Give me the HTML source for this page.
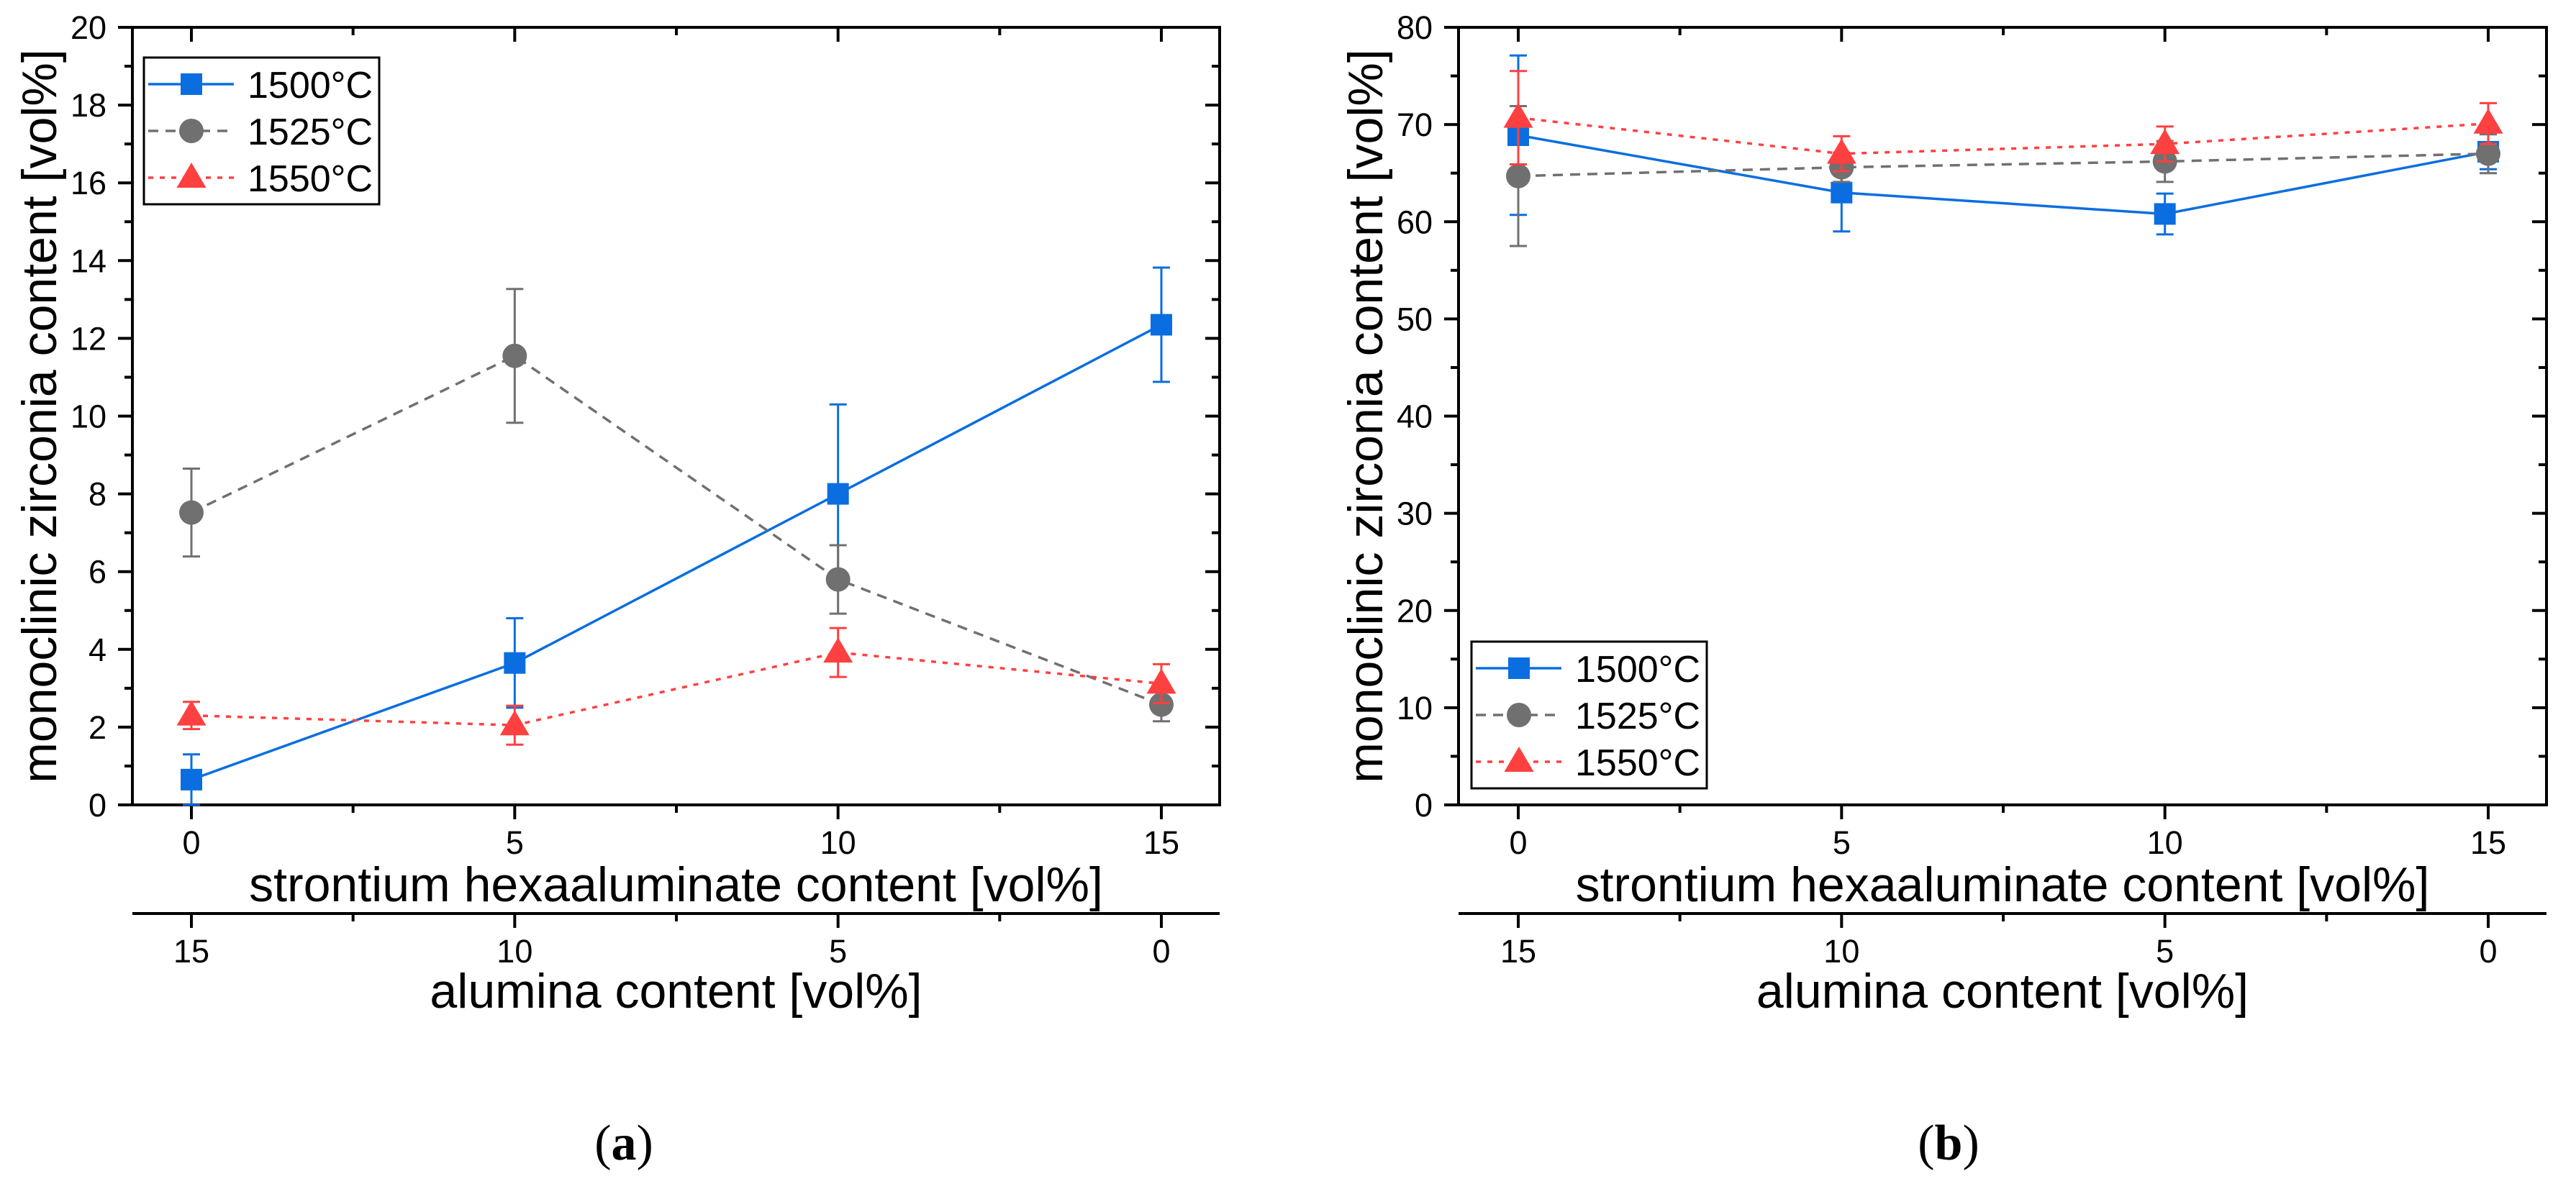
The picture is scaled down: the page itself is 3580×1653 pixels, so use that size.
<!DOCTYPE html>
<html><head><meta charset="utf-8"><style>
body{margin:0;background:#fff}
svg{display:block}
text{font-family:"Liberation Sans",Arial,sans-serif;fill:#000}
</style></head><body>
<svg id="fig" width="3580" height="1653" viewBox="0 0 3580 1653" xmlns="http://www.w3.org/2000/svg"></svg>
<script>
const categories=[0,5,10,15];
const aluminaTicks=[15,10,5,0];
const seriesNames=['1500°C','1525°C','1550°C'];
const a1500=[0.65,3.65,8.0,12.35];
const a1500err=[0.65,1.15,2.3,1.47];
const a1525=[7.52,11.55,5.8,2.58];
const a1525err=[1.13,1.72,0.88,0.43];
const a1550=[2.3,2.05,3.92,3.12];
const a1550err=[0.35,0.5,0.63,0.5];
const b1500=[68.9,63.0,60.8,67.2];
const b1500err=[8.2,4.0,2.1,1.8];
const b1525=[64.7,65.6,66.2,67.0];
const b1525err=[7.2,1.5,2.1,2.0];
const b1550=[70.7,67.0,68.0,70.1];
const b1550err=[4.8,1.8,1.8,2.1];
const aYTicks=[0,2,4,6,8,10,12,14,16,18,20];
const bYTicks=[0,10,20,30,40,50,60,70,80];

const NS='http://www.w3.org/2000/svg';
const svg=document.getElementById('fig');
function el(tag,attrs,parent,txt){const e=document.createElementNS(NS,tag);for(const k in attrs)e.setAttribute(k,attrs[k]);if(txt!==undefined)e.textContent=txt;(parent||svg).appendChild(e);return e;}
const colors=['#0a6ee0','#707070','#ff4040'];
const dashes=['none','14 10','7 9'];

function panel(o){
  const g=el('g',{});
  
  
  const L=o.left,R=o.right,T=38,B=1119;
  const X=v=>o.x0+(v-0)*(o.x15-o.x0)/15;
  const Y=v=>B-(v-0)*(B-T)/o.ymax;
  const fr=el('rect',{x:L,y:T,width:R-L,height:B-T,fill:'none',stroke:'#000','stroke-width':4},g);
  
  
  for(let v=0;v<=15;v+=2.5){
    const major=v%5===0, len=major?20:11;
    el('line',{x1:X(v),x2:X(v),y1:B,y2:B+len,stroke:'#000','stroke-width':4},g);
    el('line',{x1:X(v),x2:X(v),y1:T,y2:T+len,stroke:'#000','stroke-width':4},g);
    el('line',{x1:X(v),x2:X(v),y1:1270,y2:1270+len,stroke:'#000','stroke-width':4},g);
  }
  categories.forEach(c=>{
    const t=el('text',{x:X(c),y:1187,'font-size':45,'text-anchor':'middle'},g,String(c));
    
    
  });
  aluminaTicks.forEach((c,i)=>{
    const t=el('text',{x:X(categories[i]),y:1338,'font-size':45,'text-anchor':'middle'},g,String(c));
    
    
  });
  el('line',{x1:L,x2:R,y1:1270,y2:1270,stroke:'#000','stroke-width':4},g);
  const step=o.ticks[1]-o.ticks[0];
  for(let v=0;v<=o.ymax+1e-9;v+=step/2){
    const major=Math.abs(v/step-Math.round(v/step))<1e-6, len=major?20:11;
    el('line',{x1:L-len,x2:L,y1:Y(v),y2:Y(v),stroke:'#000','stroke-width':4},g);
    el('line',{x1:R-len,x2:R,y1:Y(v),y2:Y(v),stroke:'#000','stroke-width':4},g);
  }
  o.ticks.forEach(v=>{
    const t=el('text',{x:L-36,y:Y(v)+16,'font-size':45,'text-anchor':'end'},g,String(v));
    
    
  });
  const xl=el('text',{x:(L+R)/2,y:1253,'font-size':68,'text-anchor':'middle'},g,'strontium hexaaluminate content [vol%]');
  
  
  const al=el('text',{x:(L+R)/2,y:1401,'font-size':68,'text-anchor':'middle'},g,'alumina content [vol%]');
  
  
  const yl=el('text',{x:0,y:0,'font-size':68,'text-anchor':'middle',transform:`translate(${L-106},${(T+B)/2}) rotate(-90)`},g,'monoclinic zirconia content [vol%]');
  
  
  const cap=el('text',{x:o.capx,y:1612,'font-size':70,'text-anchor':'middle'},g);
  
  
  cap.innerHTML='(<tspan font-weight="bold">'+o.cap+'</tspan>)';
  cap.setAttribute('style','font-family:"Liberation Serif",serif');
  o.series.forEach((s,si)=>{
    const sg=el('g',{},g);
    
    
    const pts=categories.map((c,i)=>X(c)+','+Y(s.v[i])).join(' ');
    el('polyline',{points:pts,fill:'none',stroke:colors[si],'stroke-width':3.5,'stroke-dasharray':dashes[si]},sg);
    categories.forEach((c,i)=>{
      const x=X(c),y1=Y(s.v[i]+s.e[i]),y2=Y(s.v[i]-s.e[i]);
      el('path',{d:`M${x},${y1}V${y2}M${x-12},${y1}H${x+12}M${x-12},${y2}H${x+12}`,stroke:colors[si],'stroke-width':3,fill:'none'},sg);
    });
    categories.forEach((c,i)=>{
      const m=marker(si,X(c),Y(s.v[i]),sg);
      
      
    });
  });
  const lg=el('g',{},g);
  
  
  const lgx=o.leg[0],lgy=o.leg[1];
  el('rect',{x:lgx,y:lgy,width:327,height:204,fill:'#fff',stroke:'#000','stroke-width':3},lg);
  seriesNames.forEach((n,i)=>{
    const ly=lgy+37+i*65;
    const eg=el('g',{},lg);
    
    
    el('line',{x1:lgx+6,x2:lgx+125,y1:ly,y2:ly,stroke:colors[i],'stroke-width':3.5,'stroke-dasharray':dashes[i]},eg);
    marker(i,lgx+66,ly,eg);
    el('text',{x:lgx+144,y:ly+19,'font-size':52},eg,n);
  });
}
function marker(si,x,y,p){
  if(si===0)return el('rect',{x:x-15,y:y-15,width:30,height:30,fill:colors[0]},p);
  if(si===1)return el('circle',{cx:x,cy:y,r:17,fill:colors[1]},p);
  return el('path',{d:`M${x},${y-21}L${x+20.5},${y+14}L${x-20.5},${y+14}Z`,fill:colors[2]},p);
}
panel({name:'panel-a',left:184,right:1695,x0:266,x15:1614,ymax:20,ticks:aYTicks,cap:'a',capx:867,leg:[200,80],
  series:[{v:a1500,e:a1500err},{v:a1525,e:a1525err},{v:a1550,e:a1550err}]});
panel({name:'panel-b',left:2027,right:3539,x0:2110,x15:3458,ymax:80,ticks:bYTicks,cap:'b',capx:2708,leg:[2045,892],
  series:[{v:b1500,e:b1500err},{v:b1525,e:b1525err},{v:b1550,e:b1550err}]});
</script>
</body></html>
